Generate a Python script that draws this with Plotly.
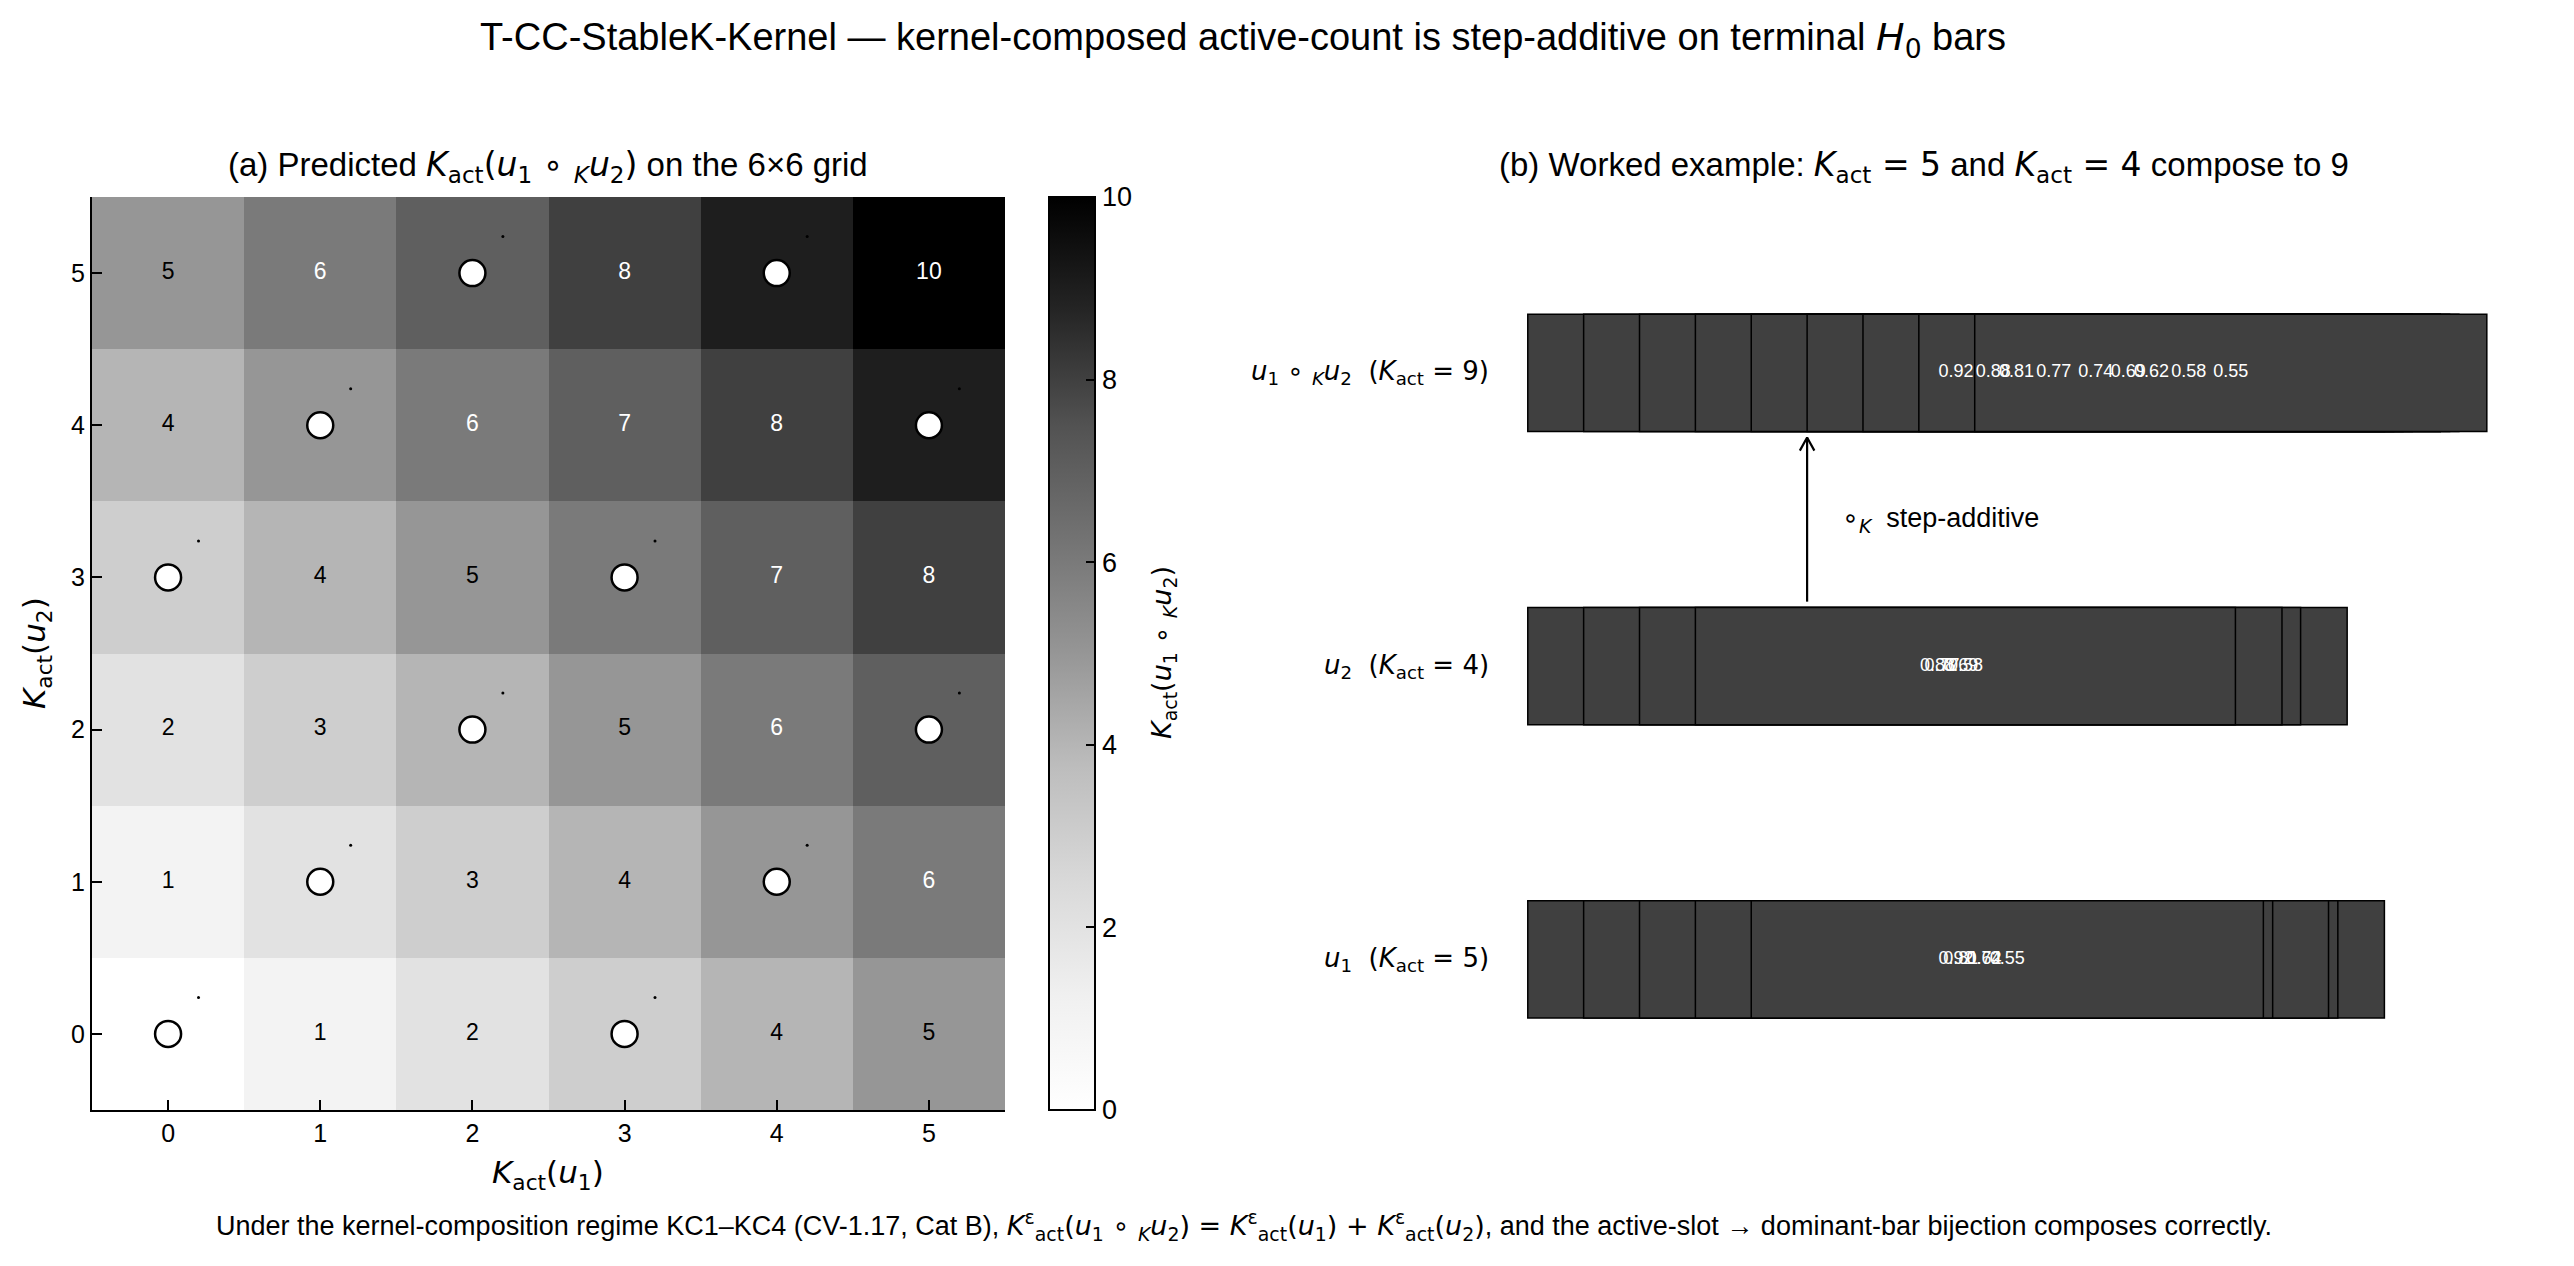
import plotly.graph_objects as go

# ---------------- data ----------------
grid_ticks = [0, 1, 2, 3, 4, 5]
# predicted K_act(u1 ∘K u2) ; rows = K_act(u2), columns = K_act(u1)
heat_z = [
    [0, 1, 2, 3, 4, 5],
    [1, 2, 3, 4, 5, 6],
    [2, 3, 4, 5, 6, 7],
    [3, 4, 5, 6, 7, 8],
    [4, 5, 6, 7, 8, 9],
    [5, 6, 7, 8, 9, 10],
]
circle_x = [0, 3, 1, 4, 2, 5, 0, 3, 1, 5, 2, 4]
circle_y = [0, 0, 1, 1, 2, 2, 3, 3, 4, 4, 5, 5]
cbar_ticks = [0, 2, 4, 6, 8, 10]

u1_vals = [0.92, 0.81, 0.74, 0.62, 0.55]
u2_vals = [0.88, 0.77, 0.69, 0.58]
comp_vals = [0.92, 0.88, 0.81, 0.77, 0.74, 0.69, 0.62, 0.58, 0.55]
row_labels = [
    "<i>u</i><sub>1</sub>\u00a0\u00a0(<i>K</i><sub>act</sub> = 5)",
    "<i>u</i><sub>2</sub>\u00a0\u00a0(<i>K</i><sub>act</sub> = 4)",
    "<i>u</i><sub>1</sub> ∘ <sub><i>K</i></sub><i>u</i><sub>2</sub>\u00a0\u00a0(<i>K</i><sub>act</sub> = 9)",
]
row_vals = [u1_vals, u2_vals, comp_vals]

greys = ['rgb(255,255,255)', 'rgb(240,240,240)', 'rgb(217,217,217)', 'rgb(189,189,189)',
         'rgb(150,150,150)', 'rgb(115,115,115)', 'rgb(82,82,82)', 'rgb(37,37,37)', 'rgb(0,0,0)']

# ---------------- layout helpers ----------------
W, H = 2574, 1266          # window size
OFF = 8                    # page body margin
FW, FH = W - 2 * OFF, H - 2 * OFF
FONT = "Liberation Sans, Arial, Helvetica, sans-serif"
MATH = "DejaVu Sans, Liberation Sans, sans-serif"

def px(x):
    return (x - OFF) / FW

def py(y):
    return 1 - (y - OFF) / FH

def M(s):
    return '<span style="font-family:DejaVu Sans">' + s + '</span>'

STEP = 0.06          # left offset between successive bars in panel (b)
BAR_H = 0.4

fig = go.Figure()

# ---------------- panel (a) ----------------
colorscale = [[i / (len(greys) - 1), c] for i, c in enumerate(greys)]
fig.add_trace(go.Heatmap(
    x=grid_ticks, y=grid_ticks, z=heat_z, zmin=0, zmax=10,
    colorscale=colorscale, xaxis="x", yaxis="y", hoverinfo="skip",
    colorbar=dict(
        x=px(1049), xanchor="left", y=(py(1110) + py(197)) / 2, yanchor="middle",
        len=(1110 - 197) / FH, lenmode="fraction", thickness=46, thicknessmode="pixels",
        outlinewidth=2, outlinecolor="black",
        tickvals=cbar_ticks, ticks="inside", ticklen=10, tickwidth=2, tickcolor="black",
        tickprefix="\u00a0",
        tickfont=dict(family=FONT, size=27, color="black"),
        xpad=0, ypad=0,
    ),
))

tx, ty, tt, tc = [], [], [], []
for yi, row in enumerate(heat_z):
    for xi, v in enumerate(row):
        tx.append(grid_ticks[xi]); ty.append(grid_ticks[yi]); tt.append(str(v))
        tc.append("white" if v > 5 else "black")
fig.add_trace(go.Scatter(
    x=tx, y=ty, text=tt, mode="text", textposition="middle center",
    textfont=dict(family=FONT, size=23, color=tc), xaxis="x", yaxis="y",
    hoverinfo="skip", showlegend=False))

fig.add_trace(go.Scatter(
    x=circle_x, y=circle_y, mode="markers", xaxis="x", yaxis="y",
    marker=dict(size=26, color="white", line=dict(color="black", width=2.5)),
    hoverinfo="skip", showlegend=False))
fig.add_trace(go.Scatter(
    x=[c + 0.2 for c in circle_x], y=[c + 0.24 for c in circle_y], mode="markers",
    xaxis="x", yaxis="y", marker=dict(size=3, color="black"),
    hoverinfo="skip", showlegend=False))

# ---------------- panel (b) ----------------
for r, vals in enumerate(row_vals):
    for i, v in enumerate(vals):
        fig.add_trace(go.Bar(
            x=[v], y=[r], base=[i * STEP], orientation="h", width=BAR_H,
            marker=dict(color="#404040", line=dict(color="black", width=1.5)),
            xaxis="x2", yaxis="y2", hoverinfo="skip", showlegend=False))
    fig.add_trace(go.Scatter(
        x=[i * STEP + v / 2 for i, v in enumerate(vals)], y=[r] * len(vals),
        text=[f"{v:.2f}" for v in vals], mode="text", textposition="middle center",
        textfont=dict(family=FONT, size=18, color="white"),
        xaxis="x2", yaxis="y2", hoverinfo="skip", showlegend=False))

# arrow  u2 -> composite
ax_x, y0a, y1a = 0.3, 1 + BAR_H / 2 + 0.02, 2 - BAR_H / 2 - 0.02
fig.add_trace(go.Scatter(x=[ax_x, ax_x], y=[y0a, y1a], mode="lines",
                         line=dict(color="black", width=2.2), xaxis="x2", yaxis="y2",
                         hoverinfo="skip", showlegend=False))
fig.add_trace(go.Scatter(x=[ax_x - 0.0078, ax_x, ax_x + 0.0078],
                         y=[y1a - 0.045, y1a, y1a - 0.045], mode="lines",
                         line=dict(color="black", width=2.2), xaxis="x2", yaxis="y2",
                         hoverinfo="skip", showlegend=False))

annotations = []
for r, lab in enumerate(row_labels):
    annotations.append(dict(x=-0.04, y=r, xref="x2", yref="y2", text=lab, showarrow=False,
                            xanchor="right", yanchor="middle",
                            font=dict(family=MATH, size=26, color="black")))
annotations.append(dict(x=0.335, y=1.5, xref="x2", yref="y2",
                        text=M("∘<sub><i>K</i></sub>") + "\u00a0\u00a0step-additive", showarrow=False,
                        xanchor="left", yanchor="middle",
                        font=dict(family=FONT, size=27, color="black")))

# ---------------- texts ----------------
annotations += [
    dict(x=px(1243), y=py(39), xref="paper", yref="paper", showarrow=False,
         text="T-CC-StableK-Kernel — kernel-composed active-count is step-additive on terminal "
              + M("<i>H</i><sub>0</sub>") + " bars",
         font=dict(family=FONT, size=38, color="black"), xanchor="center", yanchor="middle"),
    dict(x=px(548), y=py(167), xref="paper", yref="paper", showarrow=False,
         text="(a) Predicted " + M("<i>K</i><sub>act</sub>(<i>u</i><sub>1</sub> ∘ <sub><i>K</i></sub><i>u</i><sub>2</sub>)")
              + " on the 6×6 grid",
         font=dict(family=FONT, size=33, color="black"), xanchor="center", yanchor="middle"),
    dict(x=px(1924), y=py(167), xref="paper", yref="paper", showarrow=False,
         text="(b) Worked example: " + M("<i>K</i><sub>act</sub> = 5") + " and "
              + M("<i>K</i><sub>act</sub> = 4") + " compose to 9",
         font=dict(family=FONT, size=33, color="black"), xanchor="center", yanchor="middle"),
    dict(x=px(548), y=py(1174), xref="paper", yref="paper", showarrow=False,
         text="<i>K</i><sub>act</sub>(<i>u</i><sub>1</sub>)",
         font=dict(family=MATH, size=31, color="black"), xanchor="center", yanchor="middle"),
    dict(x=px(36), y=py(653), xref="paper", yref="paper", showarrow=False, textangle=-90,
         text="<i>K</i><sub>act</sub>(<i>u</i><sub>2</sub>)",
         font=dict(family=MATH, size=31, color="black"), xanchor="center", yanchor="middle"),
    dict(x=px(1163), y=py(653), xref="paper", yref="paper", showarrow=False, textangle=-90,
         text="<i>K</i><sub>act</sub>(<i>u</i><sub>1</sub> ∘ <sub><i>K</i></sub><i>u</i><sub>2</sub>)",
         font=dict(family=MATH, size=27, color="black"), xanchor="center", yanchor="middle"),
    dict(x=px(1244), y=py(1225), xref="paper", yref="paper", showarrow=False,
         text="Under the kernel-composition regime KC1–KC4 (CV-1.17, Cat B), "
              + M("<i>K</i><sup>ε</sup><sub>act</sub>(<i>u</i><sub>1</sub> ∘ <sub><i>K</i></sub><i>u</i><sub>2</sub>) = "
                  "<i>K</i><sup>ε</sup><sub>act</sub>(<i>u</i><sub>1</sub>) + <i>K</i><sup>ε</sup><sub>act</sub>(<i>u</i><sub>2</sub>)")
              + ", and the active-slot \u2192 dominant-bar bijection composes correctly.",
         font=dict(family=FONT, size=27, color="black"), xanchor="center", yanchor="middle"),
]

axis_common = dict(showgrid=False, zeroline=False, showline=True, linecolor="black", linewidth=2,
                   ticks="inside", ticklen=10, tickwidth=2, tickcolor="black",
                   tickfont=dict(family=FONT, size=25, color="black"), mirror=False)

fig.update_layout(
    width=FW, height=FH, margin=dict(l=0, r=0, t=0, b=0),
    paper_bgcolor="white", plot_bgcolor="white", showlegend=False,
    barmode="overlay",
    xaxis=dict(domain=[px(92), px(1005)], range=[-0.5, 5.5], tickvals=grid_ticks,
               anchor="y", **axis_common),
    yaxis=dict(domain=[py(1110), py(197)], range=[-0.5, 5.5], tickvals=grid_ticks,
               anchor="x", **axis_common),
    xaxis2=dict(domain=[px(1295), px(2552)], range=[-0.25, 1.1], visible=False, anchor="y2"),
    yaxis2=dict(domain=[py(1106), py(197)], range=[-0.5, 2.6], visible=False, anchor="x2"),
    annotations=annotations,
    font=dict(family=FONT, color="black"),
)

fig.write_html("out.html")
